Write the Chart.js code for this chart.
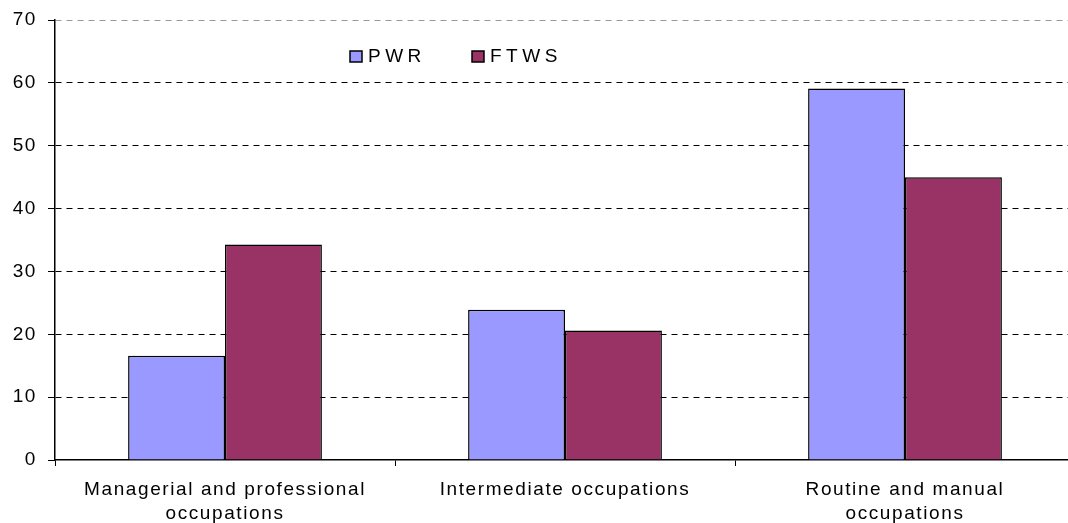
<!DOCTYPE html>
<html>
<head>
<meta charset="utf-8">
<script src="https://cdn.jsdelivr.net/npm/chart.js@4.4.0/dist/chart.umd.min.js"></script>
<style>
  html, body { margin: 0; padding: 0; background: #fff; overflow: hidden; }
  #wrap { width: 1075px; height: 523px; position: relative; }
</style>
</head>
<body>
<div id="wrap"><canvas id="barChart"></canvas></div>
<script>
// datos
const categories = [
  ['Managerial and professional', 'occupations'],
  'Intermediate occupations',
  ['Routine and manual', 'occupations']
];
const pwrValues = [16.6, 23.9, 59.1];
const ftwsValues = [34.3, 20.6, 45.0];
const seriesNames = ['PWR', 'FTWS'];
const seriesColors = ['#9999FF', '#993366'];
const yTicks = [0, 10, 20, 30, 40, 50, 60, 70];

Chart.defaults.font.family = "'Liberation Sans', Arial, sans-serif";
Chart.defaults.font.size = 19;
Chart.defaults.color = '#000';

// espaciado de letras como en el original (el canvas lo pierde al redimensionar)
const spacing = {
  id: 'spacing',
  beforeLayout(chart) { chart.ctx.letterSpacing = '1.6px'; },
  beforeDraw(chart) { chart.ctx.letterSpacing = '1.6px'; }
};

// leyenda dentro del área del gráfico
const innerLegend = {
  id: 'innerLegend',
  afterDraw(chart) {
    const ctx = chart.ctx;
    const area = chart.chartArea;
    const starts = [295, 417];
    ctx.save();
    ctx.font = "19px 'Liberation Sans', Arial, sans-serif";
    ctx.letterSpacing = '4.5px';
    ctx.textBaseline = 'middle';
    chart.data.datasets.forEach((ds, i) => {
      const x = area.left + starts[i];
      const y = area.top + 36;
      ctx.fillStyle = ds.backgroundColor;
      ctx.fillRect(x, y - 5, 12, 11);
      ctx.strokeStyle = '#000';
      ctx.lineWidth = 1.5;
      ctx.strokeRect(x, y - 5, 12, 11);
      ctx.fillStyle = '#000';
      ctx.fillText(ds.label, x + 18, y + 1);
    });
    ctx.restore();
  }
};

new Chart(document.getElementById('barChart'), {
  type: 'bar',
  data: {
    labels: categories,
    datasets: [
      {
        label: seriesNames[0],
        data: pwrValues,
        backgroundColor: seriesColors[0],
        borderColor: '#000',
        borderWidth: 1.5
      },
      {
        label: seriesNames[1],
        data: ftwsValues,
        backgroundColor: seriesColors[1],
        borderColor: '#000',
        borderWidth: 1.5
      }
    ]
  },
  options: {
    responsive: true,
    maintainAspectRatio: false,
    animation: false,
    layout: { padding: { top: 20, left: 0, right: 0, bottom: 0 } },
    datasets: {
      bar: { categoryPercentage: 0.57, barPercentage: 1.0 }
    },
    plugins: {
      legend: { display: false },
      tooltip: { enabled: false }
    },
    scales: {
      x: {
        afterFit(scale) { scale.height = 63; },
        grid: {
          display: true,
          drawOnChartArea: false,
          drawTicks: true,
          tickLength: 6,
          tickColor: '#000',
          offset: true
        },
        border: { display: true, color: '#000', width: 1.5 },
        ticks: { padding: 12, maxRotation: 0, autoSkip: false, font: { lineHeight: 1.27 } }
      },
      y: {
        min: 0,
        max: 70,
        afterFit(scale) { scale.width = 55; scale.paddingTop = 0; scale.paddingBottom = 0; },
        afterBuildTicks(scale) { scale.ticks = yTicks.map(v => ({ value: v })); },
        grid: {
          color: ctx => ctx.tick && ctx.tick.value === 70 ? '#999' : (ctx.tick && ctx.tick.value === 0 ? 'rgba(0,0,0,0)' : '#000'),
          lineWidth: 1,
          tickLength: 7,
          tickColor: '#000'
        },
        border: { display: true, color: '#000', width: 1.5, dash: [6, 5] },
        ticks: { padding: 11, font: { lineHeight: 1.0 } }
      }
    }
  },
  plugins: [spacing, innerLegend]
});
</script>
</body>
</html>
